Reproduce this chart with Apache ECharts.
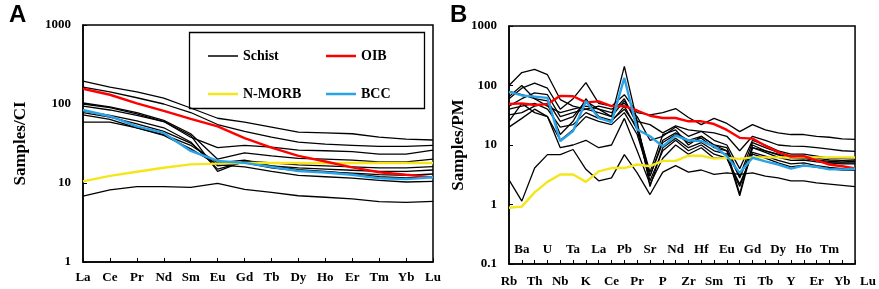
<!DOCTYPE html>
<html lang="en">
<head>
  <meta charset="UTF-8">
  <title>REE and spider diagrams</title>
  <style>
    body, html { margin: 0; padding: 0; background: #fff; }
    #main { width: 879px; height: 289px; }
  </style>
</head>
<body>
  <div id="main"></div>
  <script src="https://cdn.jsdelivr.net/npm/echarts/dist/echarts.min.js"></script>
  <script>
    // panel A: chondrite normalised REE
    var reeLabels = ['La', 'Ce', 'Pr', 'Nd', 'Sm', 'Eu', 'Gd', 'Tb', 'Dy', 'Ho', 'Er', 'Tm', 'Yb', 'Lu'];
    var schistA = [
      [195, 164, 142, 119, 89, 66, 59, 51, 44, 43, 42, 38, 36, 35],
      [164, 142, 120, 100, 78, 55, 45, 38, 33, 31, 30, 29, 29, 30],
      [100, 90, 75, 60, 38, 28, 30, 28.5, 26, 25.6, 25, 23.2, 23.2, 26],
      [103, 92, 78, 62, 42, 20, 24, 22, 20.5, 20, 19.5, 18.5, 18.5, 20],
      [94, 84, 72, 60, 40, 14, 19, 18, 17, 16.5, 16, 15.5, 15.5, 16.1],
      [82, 72, 61, 50, 33, 15, 18.5, 16.5, 15.5, 15, 14.5, 14, 14, 14.6],
      [78, 68, 56, 45, 32, 16.5, 18, 15.5, 14.2, 13.8, 13.3, 12.8, 12.5, 13],
      [59, 59, 50, 41, 30, 18, 19.5, 16.5, 14.8, 14, 13, 12, 11.6, 12],
      [73, 64, 50, 40, 27, 17, 16, 14, 12.5, 12, 11.5, 10.8, 10.3, 10.5],
      [6.8, 8.2, 9, 9, 8.8, 9.9, 8.3, 7.6, 6.9, 6.6, 6.3, 5.8, 5.7, 5.85]
    ];
    var oibA = [156, 131, 102, 82, 65, 52, 37, 28, 22, 18.7, 15.8, 13.7, 12.7, 11.8];
    var morbA = [10.5, 12.3, 13.9, 15.6, 17.2, 17.6, 17.9, 17.9, 17.9, 17.8, 17.9, 17.9, 17.9, 17.9];
    var bccA = [84, 70, 52, 43, 25.5, 19, 18, 16, 14.2, 13.6, 12.7, 11.5, 11.2, 11.8];

    // panel B: primitive mantle normalised
    var pmLabels = ['Rb', 'Ba', 'Th', 'U', 'Nb', 'Ta', 'K', 'La', 'Ce', 'Pb', 'Pr', 'Sr', 'P', 'Nd',
      'Zr', 'Hf', 'Sm', 'Eu', 'Ti', 'Gd', 'Tb', 'Dy', 'Y', 'Ho', 'Er', 'Tm', 'Yb', 'Lu'];
    var schistB = [
      [100, 165, 186, 152, 58, 45, 40, 45, 40, 50, 30, 12, 14, 20, 14, 17, 12, 10, 4, 12, 10, 8, 7, 7, 6.5, 6, 6, 6],
      [60, 90, 110, 90, 40, 60, 112, 50, 45, 70, 35, 32, 35, 41, 29, 22, 28, 23, 16.8, 22, 18, 16, 15, 15, 14, 13.5, 12.7, 12.4],
      [45, 60, 75, 70, 30, 35, 40, 35, 30, 210, 25, 22, 16, 21, 18, 17, 16, 14, 8, 14, 12, 10, 9.6, 9.5, 9, 8.5, 8, 7.8],
      [80, 70, 60, 55, 25, 30, 55, 40, 35, 60, 22, 3, 12, 16, 12, 14, 10, 8, 1.5, 10, 8, 7, 6, 6, 5.5, 5, 5, 5],
      [40, 45, 50, 40, 20, 22, 35, 28, 25, 45, 18, 2.5, 8, 12, 8, 10, 7, 6, 2, 7.5, 6.5, 5.5, 4.8, 5, 4.5, 4.2, 4, 4],
      [32, 35, 45, 50, 15, 25, 60, 30, 26, 40, 20, 3.5, 15, 18, 10, 14, 10, 9, 3, 11, 9, 7.5, 6.5, 6.5, 6, 5.6, 5.5, 5.6],
      [65, 100, 60, 45, 35, 40, 45, 40, 30, 55, 25, 2, 9, 13, 9, 11, 8, 7, 1.4, 9, 7.5, 6.2, 5.5, 5.6, 5.2, 5, 4.8, 4.8],
      [25, 50, 35, 30, 12, 18, 30, 25, 22, 35, 15, 3, 11, 15, 11, 13, 9, 8, 2.8, 9, 8, 6.8, 6, 6, 5.6, 5.3, 5.2, 5.3],
      [20, 28, 40, 30, 9, 10, 12, 9, 10, 28, 8, 2.2, 6, 10, 7, 9, 6, 6, 2.2, 7, 6, 5, 4.3, 4.6, 4.2, 4, 3.8, 3.8],
      [2.6, 1.14, 4.1, 6.9, 6.9, 8.4, 3.9, 2.5, 2.8, 6.9, 3.4, 1.47, 3.5, 4.5, 3.5, 3.8, 3.2, 3.4, 3.2, 3.4, 3.0, 2.8, 2.5, 2.5, 2.3, 2.2, 2.1, 2.0]
    ];
    var oibB = [49, 50, 47, 48.6, 67, 66, 52, 54, 45, 45, 38, 31, 28.4, 28.4, 25, 25, 22.5, 17.9, 13.2, 12.8, 9.7, 7.6, 6.4, 6.5, 5.5, 4.7, 4.4, 4.05];
    var morbB = [0.88, 0.92, 1.6, 2.4, 3.2, 3.2, 2.4, 3.6, 4.1, 4.1, 4.7, 4.4, 5.4, 5.4, 6.6, 6.6, 5.9, 6.07, 5.85, 6.2, 6.2, 6.2, 6.15, 6.2, 6.2, 6.2, 6.2, 6.15];
    var bccB = [78, 68, 65, 62, 11.6, 17.2, 54.5, 28.6, 24.2, 134, 18.2, 14, 9.5, 14.4, 12, 11.6, 9.5, 6.5, 3.4, 6.1, 5.3, 4.7, 4.0, 4.5, 4.3, 3.9, 3.9, 4.0];

    var serif = '"Liberation Serif", "Times New Roman", serif';
    var labelStyle = { color: '#000', fontFamily: serif, fontWeight: 'bold', fontSize: 13 };

    var myChart = echarts.init(document.getElementById('main'));

    function lineSeries(name, data, color, width, idx) {
      return {
        name: name,
        type: 'line',
        xAxisIndex: idx,
        yAxisIndex: idx,
        data: data,
        symbol: 'none',
        silent: true,
        lineStyle: { color: color, width: width },
        itemStyle: { color: color }
      };
    }

    var series = [];
    schistA.forEach(function (d) { series.push(lineSeries('Schist', d, '#000', 1.3, 0)); });
    series.push(lineSeries('N-MORB', morbA, '#f5e61c', 2.4, 0));
    series.push(lineSeries('OIB', oibA, '#ff0000', 2.4, 0));
    series.push(lineSeries('BCC', bccA, '#2aa3e6', 2.4, 0));
    schistB.forEach(function (d) { series.push(lineSeries('Schist', d, '#000', 1.3, 1)); });
    series.push(lineSeries('N-MORB', morbB, '#f5e61c', 2.4, 1));
    series.push(lineSeries('OIB', oibB, '#ff0000', 2.4, 1));
    series.push(lineSeries('BCC', bccB, '#2aa3e6', 2.4, 1));

    // one legend per entry so the two columns line up like the boxed key
    function legendAt(name, left, top, h) {
      return {
        left: left, top: top, z: 20,
        selectedMode: false,
        icon: 'rect',
        itemWidth: 30,
        itemHeight: h,
        textStyle: { color: '#000', fontFamily: serif, fontWeight: 'bold', fontSize: 14 },
        data: [name]
      };
    }

    var logLabel = function (v) { return String(v); };

    var option = {
      animation: false,
      grid: [
        { left: 83, top: 25, width: 350, height: 237, show: true, borderColor: '#000', borderWidth: 1.5 },
        { left: 509, top: 26, width: 350, height: 238, show: true, borderColor: '#000', borderWidth: 1.5 }
      ],
      legend: [
        legendAt('Schist', 203, 44, 1.5),
        legendAt('OIB', 321, 44, 2.5),
        legendAt('N-MORB', 203, 82, 2.5),
        legendAt('BCC', 321, 82, 2.5)
      ],
      graphic: [
        { type: 'rect', shape: { x: 189.5, y: 32.5, width: 235, height: 76 },
          style: { fill: '#fff', stroke: '#000', lineWidth: 1.3 }, z: 3 },
        { type: 'text', left: 9, top: 3, style: { text: 'A', font: 'bold 24px "Liberation Sans", Arial, sans-serif', fill: '#000' } },
        { type: 'text', left: 450, top: 3, style: { text: 'B', font: 'bold 24px "Liberation Sans", Arial, sans-serif', fill: '#000' } }
      ],
      xAxis: [
        {
          gridIndex: 0, type: 'category', data: reeLabels, boundaryGap: false,
          axisLine: { lineStyle: { color: '#000', width: 1.5 } },
          axisTick: { inside: true, length: 4, interval: 0, lineStyle: { color: '#000' } },
          axisLabel: Object.assign({ interval: 0, margin: 9 }, labelStyle),
          splitLine: { show: false }
        },
        {
          gridIndex: 1, type: 'category', data: pmLabels, boundaryGap: false, position: 'bottom',
          axisLine: { lineStyle: { color: '#000', width: 1.5 } },
          axisTick: { inside: true, length: 4, interval: 0, lineStyle: { color: '#000' } },
          axisLabel: Object.assign({
            margin: 11,
            interval: function (i) { return i % 2 === 0 || i === 27; },
            formatter: function (v) { return v === 'Lu' ? '{lu|Lu}' : v; },
            rich: { lu: { fontFamily: serif, fontWeight: 'bold', fontSize: 13, color: '#000', padding: [0, 0, 0, 26] } }
          }, labelStyle),
          splitLine: { show: false }
        },
        {
          gridIndex: 1, type: 'category', data: pmLabels, boundaryGap: false, position: 'bottom', offset: 0,
          axisLine: { show: false }, axisTick: { show: false },
          axisLabel: Object.assign({
            inside: true, margin: 8,
            interval: function (i) { return i % 2 === 1 && i !== 27; }
          }, labelStyle),
          splitLine: { show: false }
        }
      ],
      yAxis: [
        {
          gridIndex: 0, type: 'log', logBase: 10, min: 1, max: 1000,
          name: 'Samples/CI', nameLocation: 'middle', nameGap: 54,
          nameTextStyle: { color: '#000', fontFamily: serif, fontWeight: 'bold', fontSize: 17 },
          axisLine: { show: true, lineStyle: { color: '#000', width: 1.5 } },
          axisTick: { show: true, inside: true, length: 4, lineStyle: { color: '#000' } },
          axisLabel: Object.assign({ margin: 12, formatter: logLabel }, labelStyle),
          splitLine: { show: false }
        },
        {
          gridIndex: 1, type: 'log', logBase: 10, min: 0.1, max: 1000,
          name: 'Samples/PM', nameLocation: 'middle', nameGap: 42,
          nameTextStyle: { color: '#000', fontFamily: serif, fontWeight: 'bold', fontSize: 17 },
          axisLine: { show: true, lineStyle: { color: '#000', width: 1.5 } },
          axisTick: { show: true, inside: true, length: 4, lineStyle: { color: '#000' } },
          axisLabel: Object.assign({ margin: 12, formatter: logLabel }, labelStyle),
          splitLine: { show: false }
        }
      ],
      series: series
    };

    myChart.setOption(option);
  </script>
</body>
</html>
